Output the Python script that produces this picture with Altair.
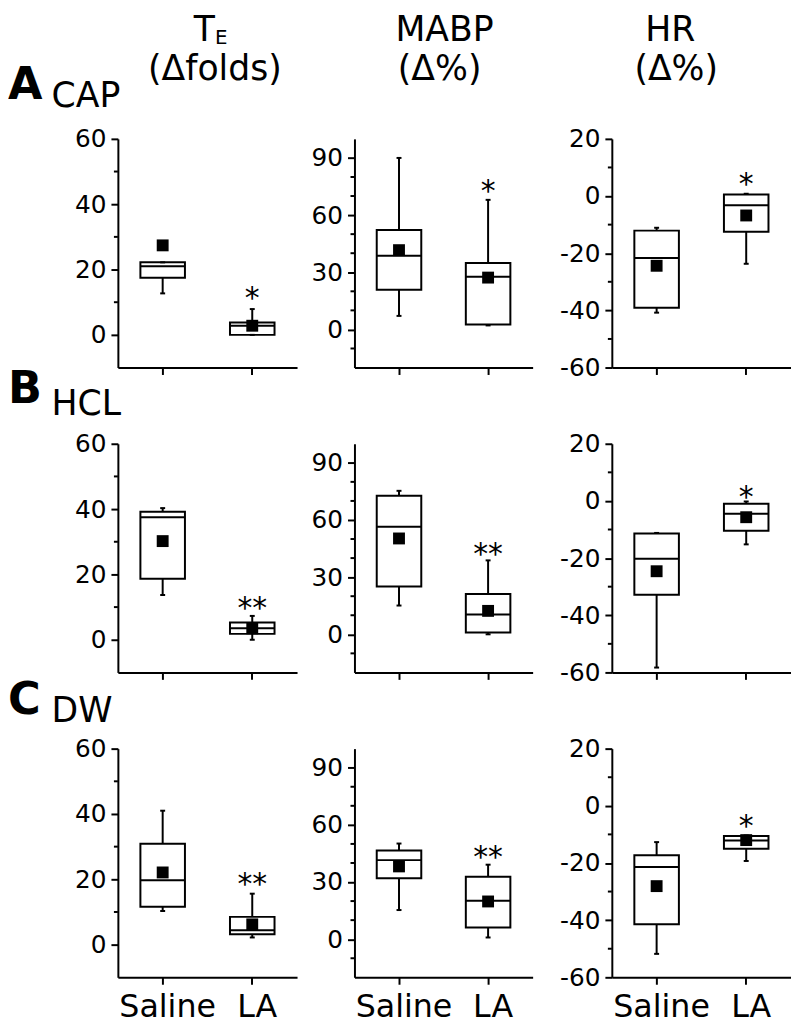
import altair as alt
import pandas as pd

groups = ["Saline", "LA"]
conditions = ["CAP", "HCL", "DW"]
row_letters = ["A", "B", "C"]

title_line1 = ["T", "MABP", "HR"]
title_sub = ["E", "", ""]
title_line2 = ["(Δfolds)", "(Δ%)", "(Δ%)"]

# T_E (Δfolds): each pair is [Saline, LA]; rows are CAP, HCL, DW
te_low = [[12.7, 0.0], [13.7, 0.0], [10.3, 2.2]]
te_q1 = [[17.5, 0.0], [18.7, 1.8], [11.6, 3.2]]
te_median = [[21.0, 2.8], [37.5, 3.5], [19.7, 4.4]]
te_q3 = [[22.2, 3.8], [39.2, 5.3], [30.9, 8.5]]
te_high = [[22.2, 7.9], [40.3, 7.3], [41.0, 15.6]]
te_mean = [[27.4, 2.8], [30.2, 3.5], [22.1, 6.2]]
te_sig = ["*", "**", "**"]
te_sig_y = [12.9, 11.3, 20.0]
te_domain = [-10, 60]
te_major = [0, 20, 40, 60]
te_minor = [10, 30, 50]

# MABP (Δ%)
mabp_low = [[7.1, 2.1], [15.1, 0.0], [15.3, 0.9]]
mabp_q1 = [[20.8, 2.6], [25.1, 0.9], [32.0, 6.1]]
mabp_median = [[38.7, 27.7], [56.4, 10.4], [41.5, 20.2]]
mabp_q3 = [[52.2, 34.9], [72.7, 21.2], [46.6, 32.8]]
mabp_high = [[90.0, 68.0], [75.3, 38.8], [50.2, 39.1]]
mabp_mean = [[41.6, 27.2], [50.3, 12.3], [38.2, 19.8]]
mabp_sig = ["*", "**", "**"]
mabp_sig_y = [75.4, 44.7, 45.5]
mabp_domain = [-20, 100]
mabp_major = [0, 30, 60, 90]
mabp_minor = [-10, 10, 20, 40, 50, 70, 80]

# HR (Δ%)
hr_low = [[-40.8, -23.7], [-58.3, -15.2], [-51.8, -19.3]]
hr_q1 = [[-39.1, -12.5], [-32.8, -10.4], [-41.4, -15.0]]
hr_median = [[-21.7, -3.2], [-20.2, -4.5], [-21.4, -12.1]]
hr_q3 = [[-12.1, 0.5], [-11.4, -1.0], [-17.3, -10.6]]
hr_high = [[-11.1, 0.8], [-11.2, -0.2], [-12.7, -10.4]]
hr_mean = [[-24.4, -6.8], [-24.6, -5.7], [-28.1, -12.0]]
hr_sig = ["*", "*", "*"]
hr_sig_y = [5.9, 3.2, -5.4]
hr_domain = [-60, 20]
hr_major = [-60, -40, -20, 0, 20]
hr_minor = [-50, -30, -10, 10]

measures = [
    dict(low=te_low, q1=te_q1, median=te_median, q3=te_q3, high=te_high, mean=te_mean,
         sig=te_sig, sig_y=te_sig_y, domain=te_domain, major=te_major, minor=te_minor),
    dict(low=mabp_low, q1=mabp_q1, median=mabp_median, q3=mabp_q3, high=mabp_high, mean=mabp_mean,
         sig=mabp_sig, sig_y=mabp_sig_y, domain=mabp_domain, major=mabp_major, minor=mabp_minor),
    dict(low=hr_low, q1=hr_q1, median=hr_median, q3=hr_q3, high=hr_high, mean=hr_mean,
         sig=hr_sig, sig_y=hr_sig_y, domain=hr_domain, major=hr_major, minor=hr_minor),
]

FONT = "DejaVu Sans"
LW = 2
BOX_W = 45
PANEL_H = 231

letter_y = [-40, -41, -35]
name_y = [-32, -29, -27]
line1_x = [98, 91, 59]
line1_align = ["right", "center", "center"]
line2_x = [98, 86, 65]


def text_layer(txt, x, y, size, align="center", weight="normal"):
    return alt.Chart(pd.DataFrame({"t": [txt]})).mark_text(
        font=FONT, fontSize=size, fontWeight=weight, align=align,
        baseline="alphabetic", color="black"
    ).encode(text="t:N", x=alt.value(x), y=alt.value(y))


def panel(c, r):
    m = measures[c]
    width = 202 if c == 1 else 181
    df = pd.DataFrame({
        "group": groups,
        "low": m["low"][r], "q1": m["q1"][r], "median": m["median"][r],
        "q3": m["q3"][r], "high": m["high"][r], "mean": m["mean"][r],
    })
    sig_df = pd.DataFrame({"group": ["LA"], "y": [m["sig_y"][r]], "t": [m["sig"][r]]})
    minor_df = pd.DataFrame({"v": m["minor"]})

    sk = dict(type="band", domain=groups, paddingInner=0, paddingOuter=0)
    if c == 1:
        sk["rangeMax"] = 180
    xs = alt.Scale(**sk)
    xa = alt.Axis(title=None, labels=(r == 2), labelAngle=0, labelFontSize=32,
                  labelPadding=8, labelOffset=5, tickSize=7, tickWidth=2,
                  domainWidth=2, labelFont=FONT, labelColor="black")
    X = alt.X("group:N", scale=xs, axis=xa, sort=groups)
    ys = alt.Scale(domain=m["domain"], nice=False, zero=False)
    ya = alt.Axis(title=None, values=m["major"], labelExpr="'' + datum.value",
                  tickSize=7, tickWidth=2, domainWidth=2, labelFontSize=25,
                  labelPadding=5, labelFont=FONT, labelColor="black")

    def Y(f):
        return alt.Y(f"{f}:Q", scale=ys, axis=ya)

    base = alt.Chart(df)
    whisk = base.mark_rule(color="black", strokeWidth=LW).encode(x=X, y=Y("low"), y2=alt.Y2("high"))
    box = base.mark_bar(fill="white", stroke="black", strokeWidth=LW, size=BOX_W, opacity=1).encode(
        x=X, y=Y("q1"), y2=alt.Y2("q3"))
    med = base.mark_tick(color="black", size=BOX_W, thickness=LW, opacity=1).encode(x=X, y=Y("median"))
    cap_lo = base.mark_tick(color="black", size=5, thickness=LW, opacity=1).encode(x=X, y=Y("low"))
    cap_hi = base.mark_tick(color="black", size=5, thickness=LW, opacity=1).encode(x=X, y=Y("high"))
    mean = base.mark_square(color="black", filled=True, size=144, opacity=1).encode(x=X, y=Y("mean"))
    sig = alt.Chart(sig_df).mark_text(font=FONT, fontSize=30, color="black", baseline="alphabetic",
                                      dy=15).encode(x=X, y=Y("y"), text="t:N")
    minor = alt.Chart(minor_df).mark_rule(color="black", strokeWidth=2).encode(
        y=Y("v"), x=alt.value(-4), x2=alt.value(0))

    layers = [whisk, box, med, cap_lo, cap_hi, mean, sig, minor]
    if r == 0:
        layers.append(text_layer(title_line1[c], line1_x[c], -99, 35, align=line1_align[c]))
        if title_sub[c]:
            layers.append(text_layer(title_sub[c], line1_x[c], -96, 20, align="left"))
        layers.append(text_layer(title_line2[c], line2_x[c], -59, 35))
    if c == 0:
        layers.append(text_layer(row_letters[r], -111, letter_y[r], 45, align="left", weight="bold"))
        layers.append(text_layer(conditions[r], -67, name_y[r], 35, align="left"))
    return alt.layer(*layers).properties(width=width, height=PANEL_H)


panels = [panel(c, r) for r in range(3) for c in range(3)]

chart = alt.concat(
    *panels, columns=3, spacing={"row": 77, "column": 58}, bounds="flush", align="each"
).properties(padding=0).configure_view(strokeWidth=0).configure_axis(
    grid=False, domainColor="black", tickColor="black"
)

chart.save("out.html", embed_options={"renderer": "svg", "actions": False})
